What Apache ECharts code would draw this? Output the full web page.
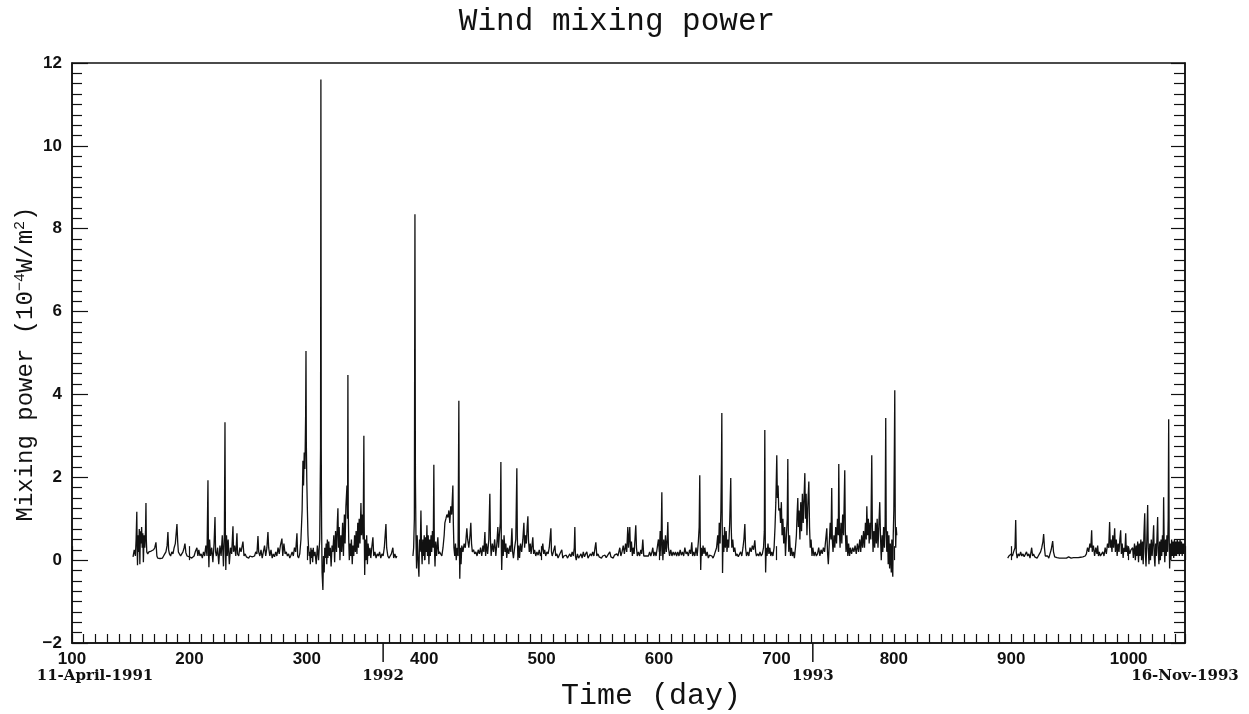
<!DOCTYPE html>
<html>
<head>
<meta charset="utf-8">
<script src="https://cdn.jsdelivr.net/npm/echarts@6/dist/echarts.min.js"></script>
<style>html,body{margin:0;padding:0;background:#fff}#c{width:1249px;height:714px}</style>
</head>
<body>
<div id="c"></div>
<script>
// ---- DATA ----
const titleText = 'Wind mixing power';
const xName = 'Time (day)';
const yTicks = [-2, 0, 2, 4, 6, 8, 10, 12];
const xTicks = [100, 200, 300, 400, 500, 600, 700, 800, 900, 1000];
const dateMarks = [100, 365, 731, 1048];
const dateLabels = ['11-April-1991', '1992', '1993', '16-Nov-1993'];
const yearTicks = [365, 731];

// Segment 1: 1991
const seg1 = [[152,0.08],[153,0.25],[154,0.1],[154.6,0.5],[155.2,1.17],[155.5,0.3],[155.8,-0.12],[156.3,0.6],[156.8,0.2],[157.3,0.75],[157.8,-0.1],[158.3,0.7],[158.8,0.4],[159.3,0.8],[159.8,0.3],[160.3,0.65],[160.8,-0.05],[161.4,0.6],[162,0.3],[162.6,0.7],[163,1.38],[163.3,0.5],[163.7,0.2],[164.5,0.15],[165.5,0.2],[166.5,0.18],[167.5,0.22],[168.5,0.2],[169.5,0.25],[170.5,0.3],[171.5,0.43],[172.3,0.1],[173,0.05],[174,0.06],[175,0.04],[176,0.08],[177,0.05],[178,0.1],[179,0.15],[180,0.2],[181,0.35],[181.7,0.68],[182.3,0.25],[183,0.15],[184,0.1],[185,0.2],[186,0.15],[187,0.3],[188,0.4],[189.4,0.87],[190,0.45],[190.6,0.2],[191.5,0.15],[192.5,0.1],[193.5,0.15],[194.5,0.2],[195.5,0.3],[196.2,0.4],[197,0.18],[198,0.1],[199,0.12],[200,0.08],[201,0.1],[202,0.05],[203,0.08],[204,0.1],[205,0.2],[206.4,0.3],[207.2,0.1],[208,0.25],[209,0.1],[210,0.15],[211,0.05],[212,0.2],[213,0.1],[214,0.35],[215,0.1],[215.8,1.93],[216.2,0.3],[216.6,-0.17],[217.2,0.5],[218,0.1],[219,0.3],[220,-0.05],[221,0.4],[221.8,1.04],[222.3,0.2],[223,0.1],[224,0.3],[225,-0.1],[226,0.35],[227,0.1],[228,0.6],[229,-0.15],[229.8,0.7],[230.3,3.33],[230.7,0.4],[231,-0.24],[231.6,0.6],[232.2,0.1],[233,0.5],[234,-0.1],[235,0.3],[236,0.15],[237.1,0.82],[237.6,0.2],[238.5,0.35],[239.5,0.1],[240.5,0.65],[241,0.15],[242,0.1],[243,0.3],[244,0.2],[245.6,0.45],[246.5,0.1],[247.5,0.15],[248.5,0.08],[249.5,0.1],[250.5,0.05],[251.5,0.1],[252.5,0.06],[253.5,0.08],[254.5,0.12],[255.5,0.1],[256.5,0.2],[257.5,0.15],[258.4,0.58],[259,0.2],[260,0.1],[261,0.25],[262,0.05],[263,0.2],[264,0.35],[265,0.1],[266,0.3],[266.9,0.68],[267.5,0.3],[268.5,0.1],[269.5,0.25],[270.5,0.05],[271.5,0.15],[272.5,0.08],[273.5,0.2],[274.5,0.1],[275.5,0.3],[276.5,0.15],[277.5,0.35],[278.8,0.52],[279.5,0.1],[280.5,0.4],[281.5,0.15],[282.5,0.2],[283.5,0.1],[284.5,0.15],[285.5,0.05],[286.5,0.12],[287.5,0.2],[288.5,0.1],[289.5,0.3],[290.5,0.2],[291.6,0.65],[292.2,0.1],[293,0.05],[294,0.15],[295,0.5],[296,1.2],[296.7,2.4],[297.2,1.8],[297.8,2.6],[298.4,2.2],[299,3.5],[299.3,5.05],[299.6,2.8],[300,1.9],[300.5,1.2],[301,0.6],[301.5,0.3],[302,0.1],[302.5,0.2],[303,-0.1],[303.5,0.3],[304,0.05],[304.5,0.25],[305,-0.05],[305.5,0.3],[306,0.1],[307,0.2],[308,-0.1],[309,0.35],[310,0.0],[311,0.5],[311.7,2.7],[312,11.6],[312.3,2.7],[312.6,0.8],[313,-0.3],[313.7,-0.72],[314.2,0.1],[314.8,-0.3],[315.3,0.3],[316,0.05],[316.5,0.4],[317,-0.1],[317.5,0.5],[318,0.05],[318.7,0.45],[319.3,0.1],[320,0.3],[320.7,-0.15],[321.5,0.35],[322.2,0.2],[323,0.6],[323.7,-0.05],[324.5,0.7],[325.3,0.2],[326,0.9],[326.5,1.25],[327,0.3],[327.6,0.8],[328.2,0.0],[329,0.6],[329.7,0.2],[330.5,0.9],[331.2,0.1],[332,1.1],[332.6,0.4],[333.3,1.3],[334.2,1.8],[334.7,1.0],[335,4.47],[335.3,1.2],[335.7,0.5],[336.2,0.0],[336.8,0.4],[337.4,0.1],[338,0.5],[338.7,-0.1],[339.3,0.35],[340,0.1],[340.7,0.6],[341.4,0.2],[342,0.7],[342.7,0.15],[343.4,0.9],[344,0.3],[344.6,1.0],[345.3,0.4],[346.1,1.38],[346.6,0.6],[347.2,1.1],[348,0.5],[348.6,3.0],[348.9,0.8],[349.3,-0.36],[349.8,0.5],[350.4,0.0],[351,0.6],[351.6,-0.1],[352.2,0.4],[353,0.1],[353.8,0.3],[354.5,0.05],[355.3,0.3],[356.3,0.55],[357,0.1],[358,0.2],[359,0.05],[360,0.15],[361,0.1],[362,0.2],[363,0.05],[364,0.15],[365,0.1],[366,0.3],[367.4,0.87],[368,0.3],[369,0.1],[370,0.05],[371,0.1],[372,0.15],[373.3,0.3],[374,0.05],[375,0.15],[376,0.05],[376.7,0.1]];

// Segment 2: 1992-1993
const seg2 = [[390.4,0.1],[391,0.3],[391.6,1.0],[392.1,8.35],[392.5,2.0],[393,0.5],[393.5,-0.2],[394,0.6],[394.6,0.1],[395.5,-0.4],[396,0.5],[396.6,0.2],[397.2,1.2],[397.7,0.3],[398.2,-0.1],[398.8,0.5],[399.4,0.1],[400,0.6],[400.6,0.0],[401.2,0.55],[401.8,0.2],[402.3,0.84],[402.8,0.1],[403.4,0.6],[404,-0.1],[404.6,0.5],[405.2,0.1],[405.8,0.6],[406.4,0.2],[407,0.7],[407.7,0.3],[408.2,2.3],[408.6,0.4],[409.2,-0.15],[409.8,0.45],[410.5,0.1],[411.6,0.55],[412.3,0.15],[413,0.2],[414,0.15],[415,0.1],[416,0.3],[417,0.6],[417.6,0.9],[418.5,1.0],[419.3,1.1],[420.2,1.03],[421,1.2],[421.8,0.9],[422.6,1.3],[423.4,1.1],[424.4,1.8],[424.8,0.9],[425.3,0.3],[426,0.1],[426.6,0.4],[427.3,0.0],[428,0.3],[428.8,0.1],[429.5,3.85],[429.9,0.5],[430.3,-0.45],[430.8,0.3],[431.4,-0.1],[432,0.35],[433,0.2],[434,0.4],[435,0.3],[436.3,0.77],[437,0.5],[438,0.3],[439,0.6],[439.7,0.9],[440.3,0.4],[441,0.2],[442,0.25],[443,0.15],[444,0.2],[445,0.1],[446,0.25],[447,0.15],[448,0.3],[449,0.1],[450,0.35],[450.8,0.2],[451.7,0.68],[452.3,0.1],[453,0.4],[454,0.15],[455,0.5],[455.9,1.6],[456.4,0.5],[457,0.1],[458,0.4],[459,0.2],[460,0.5],[461,0.1],[462,0.45],[462.7,0.8],[463.3,0.3],[464,0.6],[464.8,0.9],[465.3,2.37],[465.7,0.3],[466,-0.24],[466.6,0.5],[467.3,0.1],[468,0.6],[468.8,0.2],[469.5,0.4],[470.3,0.05],[471,0.3],[472,0.15],[473,0.35],[473.8,0.2],[474.7,0.77],[475.3,0.2],[476,0.05],[477,0.3],[478,0.5],[478.9,2.22],[479.3,0.6],[479.8,0.0],[480.5,0.35],[481.2,0.05],[482,0.4],[483,0.2],[484,0.5],[484.9,0.9],[485.5,0.3],[486.3,0.6],[487,0.4],[487.7,0.8],[488.3,1.06],[488.8,0.5],[489.5,0.2],[490.3,0.4],[491,0.15],[491.8,0.35],[492.5,0.55],[493.2,0.15],[494,0.25],[495,0.1],[496,0.2],[497,0.12],[498,0.25],[499,0.1],[500,0.2],[501,0.4],[501.8,0.15],[502.6,0.25],[503.5,0.1],[504.5,0.2],[505.5,0.15],[506.5,0.3],[507.9,0.77],[508.4,0.2],[509,0.1],[510,0.2],[511.3,0.35],[512,0.1],[513,0.15],[514,0.05],[515,0.12],[516,0.08],[517.2,0.25],[518,0.05],[519,0.1],[520,0.06],[521,0.12],[522,0.05],[523,0.1],[524,0.15],[525,0.08],[526,0.2],[527,0.1],[527.8,0.3],[528.3,0.8],[528.8,0.1],[529.5,0.0],[530.5,0.15],[531.5,0.05],[532.5,0.1],[533.5,0.15],[534.5,0.05],[535.5,0.2],[536.5,0.08],[537.5,0.15],[538.5,0.2],[539.5,0.05],[540.5,0.1],[541.5,0.15],[542.5,0.1],[543.5,0.2],[544.5,0.1],[545.5,0.3],[546.2,0.43],[547,0.1],[548,0.15],[549,0.08],[550,0.12],[551,0.05],[552,0.1],[553,0.08],[554,0.12],[555,0.06],[556,0.1],[557,0.15],[558.1,0.2],[559,0.08],[560,0.1],[561,0.05],[562,0.12],[563,0.08],[564,0.15],[565,0.1],[566.6,0.3],[567.5,0.1],[568.5,0.2],[569.5,0.35],[570.5,0.15],[571.5,0.4],[572.5,0.2],[573.4,0.8],[574,0.3],[575.1,0.8],[575.7,0.2],[576.5,0.45],[577.3,0.1],[578,0.3],[578.8,0.15],[579.5,0.5],[580.2,0.84],[580.8,0.3],[581.5,0.1],[582.5,0.2],[583.5,0.1],[584.5,0.25],[585.3,0.15],[586.2,0.5],[587,0.1],[588,0.08],[589,0.1],[590,0.06],[591,0.1],[592,0.2],[593,0.1],[594,0.2],[594.7,0.3],[595.5,0.1],[596.5,0.2],[597.5,0.1],[598.5,0.3],[599.5,0.5],[600.3,0.2],[601,0.7],[601.6,0.1],[602.4,1.64],[602.8,0.4],[603.3,0.0],[604,0.5],[604.7,0.15],[605.5,0.6],[606.2,0.2],[607,0.5],[607.5,0.92],[608,0.3],[609,0.1],[610,0.25],[611,0.1],[612,0.2],[613,0.12],[614,0.2],[615,0.1],[616,0.2],[617,0.1],[618,0.25],[619,0.12],[620,0.2],[621,0.1],[622,0.3],[623,0.15],[624,0.2],[625,0.1],[626,0.25],[627,0.15],[627.9,0.43],[628.6,0.1],[629.5,0.2],[630.5,0.1],[631.5,0.3],[632.5,0.1],[633.5,0.45],[634.2,0.8],[634.7,2.05],[635.1,0.5],[635.5,-0.24],[636,0.3],[636.7,0.1],[637.5,0.35],[638.3,0.15],[639,0.3],[640,0.1],[641,0.2],[642,0.05],[643,0.12],[644,0.08],[645,0.1],[646,0.05],[647,0.12],[648,0.1],[649,0.3],[650,0.6],[650.7,0.2],[651.3,0.9],[652,0.4],[652.7,1.2],[653.2,2.4],[653.5,3.55],[653.8,1.0],[654.1,-0.31],[654.6,0.6],[655.2,0.2],[655.8,0.8],[656.5,0.3],[657.2,0.7],[657.9,0.2],[658.6,0.5],[659.3,0.3],[660.2,0.9],[661.1,1.98],[661.5,0.8],[662,0.3],[662.8,0.5],[663.6,0.2],[664.5,0.3],[665.5,0.1],[666.5,0.15],[667.5,0.08],[668.5,0.1],[669.5,0.2],[670.5,0.1],[671.5,0.3],[672.3,0.5],[673.1,0.87],[673.7,0.3],[674.5,0.1],[675.5,0.2],[676.5,0.1],[677.5,0.3],[678.5,0.2],[679.5,0.35],[680.5,0.25],[681.6,0.48],[682.3,0.2],[683,0.1],[684,0.15],[685,0.1],[686,0.2],[687,0.1],[688,0.15],[689,0.3],[689.7,0.7],[690.1,3.14],[690.5,0.5],[690.8,-0.3],[691.3,0.3],[692,0.1],[692.8,0.4],[693.6,0.15],[694.4,0.3],[695.2,0.1],[696,0.2],[697,0.1],[698,0.3],[698.8,0.8],[699.5,1.4],[700.3,2.53],[700.8,1.5],[701.4,1.8],[702,1.2],[702.9,1.25],[703.5,0.9],[704.2,1.4],[704.8,0.6],[705.5,1.0],[706.2,0.4],[707,0.8],[707.7,0.1],[708.5,0.6],[709.2,1.0],[709.7,2.44],[710.1,0.8],[710.5,0.2],[711.2,0.6],[712,0.1],[712.8,0.3],[713.6,0.1],[714.5,0.2],[715.3,0.05],[716.2,0.3],[717,0.6],[717.6,1.1],[718.2,1.5],[718.7,0.8],[719.3,1.2],[720,0.5],[720.7,1.4],[721.4,0.7],[722.1,1.6],[722.8,0.9],[723.5,1.5],[724.2,2.1],[724.7,1.0],[725.3,1.6],[726,0.6],[726.7,1.3],[727.6,1.9],[728.2,0.8],[728.8,0.3],[729.5,0.5],[730.3,0.1],[731,0.3],[732,0.1],[733,0.2],[734,0.1],[735,0.15],[736,0.3],[737,0.1],[738,0.25],[739,0.15],[740,0.3],[741,0.2],[742,0.5],[742.9,0.77],[743.5,0.2],[744.2,-0.1],[745,0.4],[745.8,0.9],[746.5,0.5],[747.1,1.74],[747.6,0.5],[748.2,0.2],[749,0.6],[749.7,0.3],[750.5,0.8],[751.2,0.4],[752,1.0],[752.7,0.6],[753.1,2.32],[753.6,0.8],[754.2,0.3],[755,0.9],[755.7,0.4],[756.4,1.1],[757.2,0.6],[758.2,2.17],[758.7,0.7],[759.3,0.2],[760,0.6],[760.8,0.1],[761.5,0.4],[762.3,0.1],[763,0.3],[764,0.15],[765,0.3],[766,0.2],[767,0.35],[768,0.15],[769,0.4],[770,0.2],[771,0.5],[771.8,0.2],[772.6,0.6],[773.4,0.3],[774.2,0.7],[775,0.3],[775.8,0.9],[776.5,0.5],[777,1.3],[777.6,0.6],[778.3,1.0],[779,0.4],[779.7,0.9],[780.4,0.5],[781.2,2.53],[781.7,0.8],[782.3,0.2],[783,0.7],[783.7,0.3],[784.4,0.9],[785.1,0.4],[785.8,1.0],[786.5,0.3],[787.2,0.8],[788,1.4],[788.6,0.6],[789.3,0.0],[790,0.6],[790.6,0.2],[791.3,0.8],[792,0.3],[792.6,0.9],[793.1,3.43],[793.5,0.8],[794,0.2],[794.6,0.7],[795.2,-0.1],[795.8,0.6],[796.4,-0.2],[797,0.4],[797.4,0.1],[797.8,-0.3],[798.3,0.5],[798.7,-0.2],[799.1,-0.4],[799.5,0.6],[800,1.2],[800.4,2.5],[800.8,4.1],[801.2,1.0],[801.6,0.3],[802,0.8],[802.5,0.6]];

// Segment 3: 1993
const seg3 = [[897,0.05],[898,0.1],[899,0.08],[900,0.15],[901,0.1],[902,0.2],[903.2,0.3],[903.8,0.97],[904.3,0.2],[905,0.05],[906,0.15],[907,0.1],[908,0.2],[909,0.1],[910,0.15],[911,0.08],[912,0.1],[913,0.2],[914,0.1],[915,0.15],[916,0.05],[917.4,0.3],[918.2,0.1],[919,0.15],[920,0.08],[921,0.1],[922,0.05],[923,0.1],[924,0.15],[925,0.2],[926,0.3],[927,0.45],[927.6,0.63],[928.3,0.3],[929,0.1],[930,0.08],[931,0.1],[932,0.05],[933,0.15],[934,0.25],[935.3,0.46],[936,0.2],[937,0.08],[938,0.05],[939,0.06],[940,0.04],[941,0.05],[942,0.06],[943,0.05],[944,0.07],[945,0.05],[946,0.06],[947,0.05],[948.9,0.08],[950,0.06],[951,0.05],[952,0.07],[953,0.06],[954,0.05],[955,0.06],[956,0.08],[957,0.06],[958,0.05],[959,0.07],[960,0.05],[961,0.08],[962,0.06],[963,0.1],[964,0.15],[965,0.3],[966,0.2],[967,0.4],[967.8,0.3],[968.5,0.72],[969,0.2],[970,0.35],[971,0.1],[972,0.3],[973,0.15],[973.6,0.35],[974.3,0.1],[975,0.2],[976,0.1],[977,0.15],[978,0.2],[979,0.1],[980,0.3],[981,0.15],[982,0.4],[983,0.3],[983.8,0.92],[984.4,0.3],[985,0.5],[985.8,0.2],[986.5,0.6],[987.2,0.3],[988.1,0.77],[988.7,0.2],[989.5,0.5],[990.2,0.1],[991,0.4],[991.8,0.2],[992.5,0.5],[993.2,0.72],[993.8,0.15],[994.5,0.4],[995.3,0.05],[996,0.3],[996.8,0.2],[997.5,0.65],[998,0.2],[998.7,0.35],[999.4,0.1],[1000,0.3],[1001,0.15],[1002,0.25],[1003.4,0.3],[1004,0.05],[1005,0.4],[1005.7,0.0],[1006.4,0.35],[1007,0.1],[1007.7,0.45],[1008.4,-0.05],[1009,0.4],[1009.7,0.1],[1010.4,0.5],[1011,0.0],[1011.7,0.45],[1012.4,-0.1],[1013,0.6],[1013.7,1.13],[1014.2,0.2],[1014.8,-0.15],[1015.5,0.5],[1016.2,1.33],[1016.7,0.3],[1017.3,-0.1],[1018,0.4],[1018.6,0.0],[1019.3,0.5],[1020,0.1],[1020.6,0.4],[1021.3,0.84],[1021.8,0.1],[1022.4,-0.15],[1023,0.4],[1023.6,0.1],[1024.2,0.6],[1024.7,1.04],[1025.2,0.2],[1025.8,-0.1],[1026.4,0.45],[1027,0.0],[1027.6,0.5],[1028.2,0.1],[1028.8,0.6],[1029.4,0.2],[1029.8,1.52],[1030.3,0.3],[1030.8,-0.05],[1031.4,0.5],[1032,0.1],[1032.6,0.6],[1033.2,0.2],[1033.7,1.0],[1034.1,3.4],[1034.5,0.6],[1034.9,-0.2],[1035.4,0.4],[1036,0.0],[1036.6,0.5],[1037.2,0.1],[1037.8,0.45],[1038.4,0.05],[1039,0.5],[1039.6,0.1],[1040.2,0.45],[1040.8,0.1],[1041.4,0.5],[1042,0.15],[1042.6,0.45],[1043.2,0.1],[1043.8,0.5],[1044.4,0.15],[1045,0.45],[1045.6,0.1],[1046.2,0.4],[1046.8,0.15],[1047.4,0.4],[1048,0.2]];

// ---- CHART ----
const X_MIN = 100, X_MAX = 1048, Y_MIN = -2, Y_MAX = 12;
const lineData = seg1.concat([[383, null]], seg2, [[850, null]], seg3);

const chart = echarts.init(document.getElementById('c'), null, {renderer: 'canvas'});
const black = '#111';
const tickFont = 'Liberation Sans';
const monoFont = 'Liberation Mono';
const dateFont = 'DejaVu Serif';

const baseX = {
  type: 'value', min: X_MIN, max: X_MAX, position: 'bottom',
  splitLine: {show: false}, axisLabel: {show: false}, axisLine: {show: false}, axisTick: {show: false}
};

const option = {
  animation: false,
  backgroundColor: '#fff',
  grid: {left: 72, right: 64, top: 63, bottom: 71, show: true, borderColor: black, borderWidth: 1.5, backgroundColor: 'transparent'},
  xAxis: [
    Object.assign({}, baseX, {
      interval: 10,
      axisLine: {show: true, onZero: false, lineStyle: {color: black, width: 1.5}},
      axisTick: {show: true, inside: true, length: 9, lineStyle: {color: black, width: 1.2}},
      axisLabel: {show: true, interval: 0, margin: 8, color: black, fontFamily: tickFont, fontSize: 17, fontWeight: 'bold',
        showMinLabel: true, showMaxLabel: true,
        formatter: v => (xTicks.indexOf(Math.round(v)) >= 0 && Math.abs(v - Math.round(v)) < 1e-6) ? String(Math.round(v)) : ''}
    }),
    Object.assign({}, baseX, {
      interval: 100,
      axisTick: {show: true, inside: true, length: 14, lineStyle: {color: black, width: 1.2}}
    }),
    Object.assign({}, baseX, {
      axisLabel: {show: true, customValues: dateMarks, margin: 26, color: black, fontFamily: dateFont, fontSize: 15, fontWeight: 'bold',
        showMinLabel: true, showMaxLabel: true,
        formatter: v => {
          const i = dateMarks.indexOf(v);
          const t = i >= 0 ? dateLabels[i] : '';
          return i === 0 ? '{a|' + t + '}' : t;
        },
        rich: {a: {fontFamily: dateFont, fontSize: 15, fontWeight: 'bold', color: black, padding: [0, 0, 0, 46]}}
      }
    })
  ],
  yAxis: [
    {
      type: 'value', min: Y_MIN, max: Y_MAX, interval: 2, position: 'left',
      splitLine: {show: false},
      axisLine: {show: true, onZero: false, lineStyle: {color: black, width: 1.5}},
      axisTick: {show: true, inside: true, length: 16, lineStyle: {color: black, width: 1.2}},
      minorTick: {show: true, splitNumber: 8, length: 10, lineStyle: {color: black, width: 1.2}},
      axisLabel: {margin: 10, color: black, fontFamily: tickFont, fontSize: 17, fontWeight: 'bold',
        formatter: v => String(v).replace('-', '\u2212')}
    },
    {
      type: 'value', min: Y_MIN, max: Y_MAX, interval: 2, position: 'right',
      splitLine: {show: false},
      axisLine: {show: true, onZero: false, lineStyle: {color: black, width: 1.5}},
      axisTick: {show: true, inside: true, length: 14, lineStyle: {color: black, width: 1.2}},
      minorTick: {show: true, splitNumber: 8, length: 11, lineStyle: {color: black, width: 1.2}},
      axisLabel: {show: false}
    }
  ],
  graphic: [
    {id: 'title', type: 'text', x: 617, y: 22, style: {text: titleText, fill: black, font: '31px "Liberation Mono"', textAlign: 'center', textVerticalAlign: 'middle'}},
    {id: 'xname', type: 'text', x: 651, y: 696, style: {text: xName, fill: black, font: '30px "Liberation Mono"', textAlign: 'center', textVerticalAlign: 'middle'}},
    {id: 'yname', type: 'text', x: 26, y: 364, rotation: Math.PI / 2,
      style: {text: 'Mixing power (10{sup|\u22124}W/m{sup|2})', fill: black, font: '24px "Liberation Mono"',
        textAlign: 'center', textVerticalAlign: 'middle',
        rich: {sup: {fontFamily: monoFont, fontSize: 15, fill: black, padding: [0, 0, 12, 0]}}}}
  ],
  series: [{
    type: 'line', xAxisIndex: 0, yAxisIndex: 0, data: lineData,
    showSymbol: false, symbol: 'none', connectNulls: false,
    lineStyle: {color: black, width: 1.3}, silent: true
  }]
};
chart.setOption(option);

// Year-boundary ticks below the axis, positioned through the axis scales
const yBottom = chart.convertToPixel({yAxisIndex: 0}, Y_MIN);
const yearGraphics = yearTicks.map((d, i) => {
  const px = chart.convertToPixel({xAxisIndex: 0}, d);
  return {id: 'yr' + i, type: 'line', shape: {x1: px, y1: yBottom, x2: px, y2: yBottom + 19},
    style: {stroke: black, lineWidth: 1.5}};
});
chart.setOption({graphic: yearGraphics});
</script>
</body>
</html>
